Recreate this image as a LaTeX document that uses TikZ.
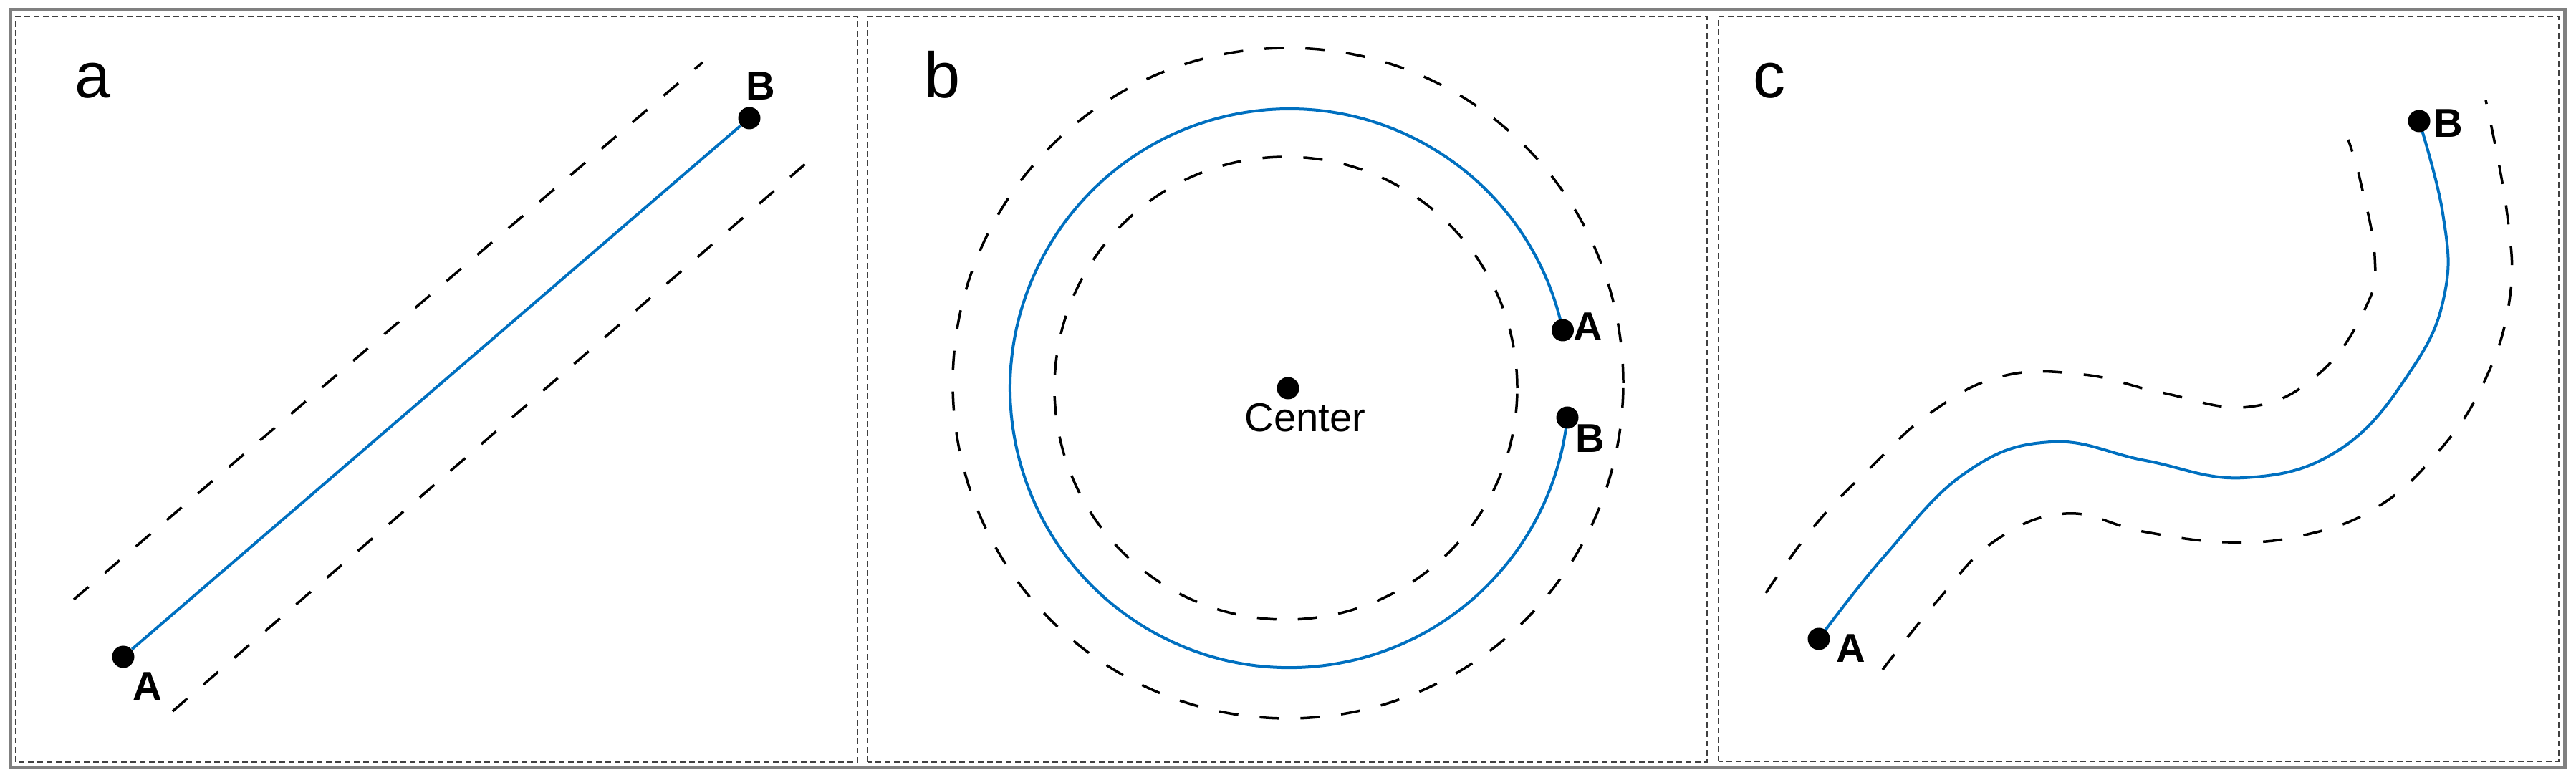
\documentclass[tikz,border=0pt]{standalone}
\usepackage{fontspec}
\setmainfont{Liberation Sans}
\usetikzlibrary{backgrounds}
\definecolor{routeblue}{RGB}{0,112,192}
\definecolor{framegray}{RGB}{128,128,128}

\begin{document}
\begin{tikzpicture}
  % Define styles
  \tikzset{
    outerframe/.style={framegray, line width=0.05cm},
    panelframe/.style={black!75, line width=0.02cm, dash pattern=on 0.08cm off 0.05cm},
    bound/.style={black, line width=0.035cm, dash pattern=on 0.27cm off 0.30cm},
    route/.style={routeblue, line width=0.04cm},
    pt/.style={circle, fill=black, inner sep=0pt, minimum size=0.31cm},
    ptlabel/.style={font=\fontsize{16}{19}\selectfont\bfseries},
    panellabel/.style={font=\fontsize{25.6}{30}\selectfont, anchor=base}
  }
  \useasboundingbox (0,0) rectangle (35.96,10.88);
  % Frames
  \draw[outerframe] (0.15,0.17) rectangle (35.80,10.74);
  \draw[panelframe] (0.22,0.24) rectangle (11.97,10.65);
  \draw[panelframe] (12.11,0.24) rectangle (23.83,10.65);
  \draw[panelframe] (23.99,0.25) rectangle (35.72,10.65);

  % Straight path (a)
  \node[panellabel] (a-title) at (1.30,9.51) {a};
  \node[pt] (a-A) at (1.72,1.71) {};
  \node[pt] (a-B) at (10.46,9.23) {};
  \node[ptlabel] (a-Alab) at (2.06,1.30) {A};
  \node[ptlabel] (a-Blab) at (10.62,9.68) {B};
  \draw[route] (a-A) -- (a-B);
  \draw[bound] (1.03,2.51) -- (9.81,10.01);
  \draw[bound] (2.41,0.95) -- (11.24,8.59);

  % Circular path (b)
  \node[panellabel] (b-title) at (13.16,9.51) {b};
  \node[pt] (b-C) at (17.98,5.46) {};
  \node[font=\fontsize{16}{19}\selectfont] (b-Clab) at (18.22,5.05) {Center};
  \node[pt] (b-A) at (21.815,6.27) {};
  \node[pt] (b-B) at (21.88,5.05) {};
  \node[ptlabel] (b-Alab) at (22.17,6.32) {A};
  \node[ptlabel] (b-Blab) at (22.20,4.76) {B};
  \begin{scope}[on background layer]
    \draw[route] (b-A.center) arc[start angle=12, end angle=354, radius=3.90];
  \end{scope}
  \draw[bound] (17.98,5.53) circle (4.68);
  \draw[bound] (17.95,5.46) circle (3.23);

  % Curved path (c)
  \node[panellabel] (c-title) at (24.70,9.51) {c};
  \node[pt] (c-A) at (25.39,1.96) {};
  \node[pt] (c-B) at (33.77,9.19) {};
  \node[ptlabel] (c-Alab) at (25.84,1.83) {A};
  \node[ptlabel] (c-Blab) at (34.18,9.16) {B};
  \begin{scope}[on background layer]
    \draw[route] plot[smooth, tension=0.7] coordinates {(c-A.center) (26.30,3.11) (27.44,4.28) (28.63,4.71) (29.95,4.45) (31.33,4.21) (32.67,4.61) (33.67,5.73) (34.13,6.80) (34.10,7.90) (c-B.center)};
  \end{scope}
  \draw[bound] plot[smooth, tension=0.7] coordinates {(24.65,2.60) (25.34,3.55) (26.12,4.36) (26.97,5.13) (27.96,5.63) (29.09,5.65) (30.17,5.40) (31.40,5.20) (32.38,5.67) (33.03,6.60) (33.15,7.30) (32.95,8.35) (32.78,8.93)};
  \draw[bound] plot[smooth, tension=0.7] coordinates {(26.28,1.53) (27.06,2.51) (27.85,3.33) (28.84,3.71) (29.91,3.46) (31.10,3.31) (32.17,3.41) (33.17,3.79) (34.00,4.53) (34.65,5.49) (35.03,6.68) (35.00,7.88) (34.70,9.48)};
\end{tikzpicture}
\end{document}
